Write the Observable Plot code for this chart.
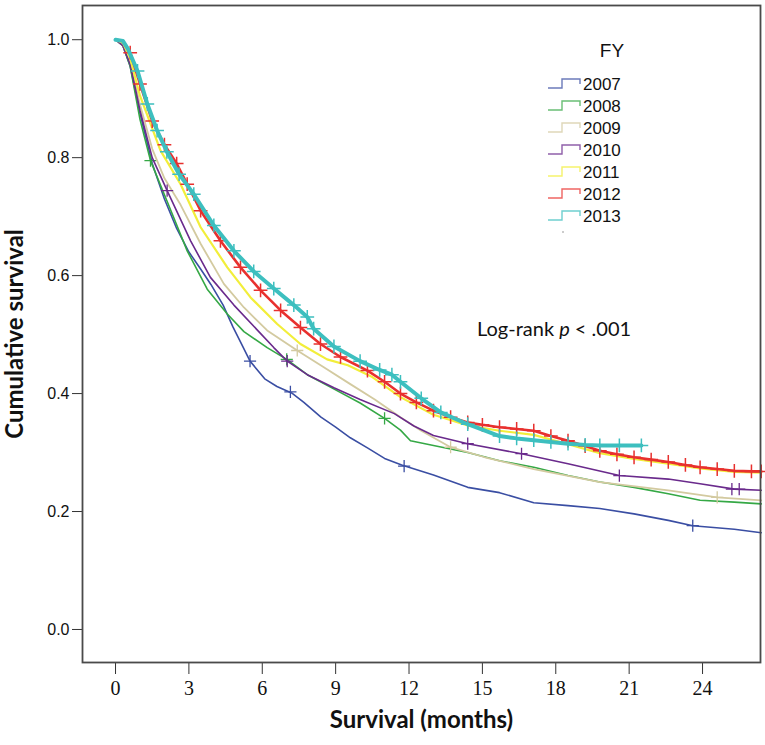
<!DOCTYPE html>
<html><head><meta charset="utf-8">
<script src="https://cdn.jsdelivr.net/npm/d3@7"></script>
<script src="https://cdn.jsdelivr.net/npm/@observablehq/plot@0.6"></script>
<style>
body{margin:0;background:#fff;}
#wrap{position:relative;width:765px;height:745px;}
#wrap svg{position:absolute;left:0;top:0;}
</style></head><body><div id="wrap"></div>
<script>
const years = ["2007","2008","2009","2010","2011","2012","2013"];
const colors = ["#3a4ea3","#35a845","#d3caa0","#6a2a8c","#f2ee3a","#e8302e","#3dbfbf"];
const widths = [1.6,1.6,1.8,1.6,2.2,2.6,4];

const t2007 = [0,0.3,0.6,1.0,1.5,2.0,2.5,3.0,3.5,3.9,4.4,4.8,5.2,5.5,6.1,6.6,7.2,7.7,8.4,9.0,9.6,10.3,11.0,11.7,13.0,14.4,15.7,17.1,18.5,19.8,21.2,22.6,23.6,25.3,26.4];
const s2007 = [1.0,0.99,0.955,0.875,0.79,0.73,0.68,0.64,0.61,0.585,0.55,0.513,0.48,0.455,0.425,0.412,0.401,0.385,0.36,0.343,0.325,0.308,0.29,0.279,0.262,0.241,0.232,0.215,0.21,0.205,0.196,0.185,0.176,0.17,0.164];

const t2008 = [0,0.3,0.6,1.0,1.43,2.1,2.93,3.75,4.57,5.25,6.2,7.0,7.84,8.92,10.0,11.0,11.65,12.06,13.0,14.4,15.7,17.1,18.5,19.8,21.2,22.6,23.9,25.3,26.4];
const s2008 = [1.0,0.99,0.955,0.865,0.795,0.727,0.642,0.577,0.535,0.505,0.478,0.458,0.432,0.408,0.384,0.358,0.338,0.32,0.312,0.300,0.286,0.275,0.261,0.250,0.241,0.230,0.219,0.216,0.213];

const t2009 = [0,0.3,0.6,1.0,1.5,2.0,2.66,3.48,4.43,5.25,6.2,7.43,8.5,9.6,10.6,11.65,12.5,13.7,15.1,17.1,19.8,22.6,24.6,26.4];
const s2009 = [1.0,0.99,0.962,0.89,0.815,0.765,0.72,0.654,0.586,0.546,0.507,0.473,0.445,0.416,0.39,0.36,0.337,0.309,0.292,0.272,0.250,0.236,0.224,0.219];

const t2010 = [0,0.3,0.6,1.0,1.5,2.11,3.07,3.88,4.84,5.79,6.47,7.02,7.84,8.93,10.0,11.4,12.2,13.0,14.4,16.6,18.5,20.6,22.6,23.9,25.3,26.4];
const s2010 = [1.0,0.99,0.958,0.88,0.80,0.744,0.659,0.597,0.55,0.508,0.478,0.455,0.432,0.41,0.39,0.366,0.345,0.329,0.315,0.298,0.281,0.261,0.255,0.247,0.238,0.236];

const t2011 = [0,0.3,0.6,1.0,1.84,2.66,3.48,4.57,5.52,6.61,7.56,8.65,9.5,10.5,11.65,13.0,14.4,15.7,17.1,18.5,19.8,21.2,22.6,23.9,25.3,26.4];
const s2011 = [1.0,0.995,0.968,0.905,0.812,0.755,0.682,0.614,0.563,0.518,0.484,0.458,0.448,0.428,0.394,0.364,0.346,0.337,0.330,0.314,0.299,0.289,0.281,0.273,0.267,0.266];

const t2012 = [0,0.3,0.6,1.0,1.5,2.0,2.5,2.93,3.48,4.29,5.11,5.93,6.75,7.56,8.38,9.2,10.3,11.0,11.65,12.3,13.0,13.7,14.4,15.0,15.7,16.4,17.1,17.8,18.5,19.2,19.8,20.5,21.2,21.9,22.6,23.3,23.9,24.6,25.3,26.0,26.4];
const s2012 = [1.0,0.998,0.978,0.925,0.862,0.822,0.79,0.755,0.71,0.659,0.614,0.575,0.541,0.512,0.484,0.462,0.439,0.42,0.40,0.385,0.371,0.36,0.351,0.347,0.343,0.340,0.337,0.328,0.320,0.311,0.303,0.297,0.292,0.288,0.284,0.279,0.275,0.272,0.269,0.268,0.268];

const t2013 = [0,0.3,0.5,0.9,1.3,1.7,2.1,2.6,3.2,4.02,4.84,5.65,6.47,7.29,7.84,8.1,8.93,10.0,10.8,11.3,11.65,12.5,13.3,14.4,15.7,16.4,17.1,17.8,18.5,19.2,19.8,20.6,21.5];
const s2013 = [1.0,0.998,0.985,0.947,0.891,0.846,0.81,0.772,0.738,0.685,0.642,0.607,0.578,0.55,0.53,0.51,0.48,0.455,0.44,0.432,0.42,0.392,0.368,0.348,0.328,0.324,0.321,0.318,0.315,0.313,0.312,0.312,0.312];

// censored observations (+ marks) read for the thinner curves
const c2007t = [5.5,7.15,11.8,23.6], c2007s = [0.455,0.403,0.277,0.176];
const c2008t = [1.43,7.0,11.0], c2008s = [0.795,0.458,0.358];
const c2009t = [7.43,13.7,24.6], c2009s = [0.473,0.309,0.224];
const c2010t = [2.11,7.02,14.4,16.6,20.6,25.2,25.5], c2010s = [0.744,0.455,0.315,0.298,0.261,0.238,0.238];

const xTicks = [0,3,6,9,12,15,18,21,24];
const yTicks = [0,0.2,0.4,0.6,0.8,1.0];
const xTitle = "Survival (months)";
const yTitle = "Cumulative survival";
const legendTitle = "FY";

const curves = [[t2007,s2007],[t2008,s2008],[t2009,s2009],[t2010,s2010],[t2011,s2011],[t2012,s2012],[t2013,s2013]];
const censors = {"2007":[c2007t,c2007s],"2008":[c2008t,c2008s],"2009":[c2009t,c2009s],"2010":[c2010t,c2010s]};

const lineMarks = [];
years.forEach((y,i) => {
  const [ts, ss] = curves[i];
  const rows = ts.map((t,j) => ({year:y, t, s:ss[j]}));
  lineMarks.push(Plot.line(rows, {x:"t", y:"s", stroke:colors[i], strokeWidth:widths[i], curve:"linear"}));
  if (censors[y]) {
    const [ct, cs] = censors[y];
    lineMarks.push(Plot.dot(ct.map((t,j)=>({t, s:cs[j]})), {x:"t", y:"s", symbol:"plus", r:4, stroke:colors[i], strokeWidth:1.3}));
  } else if (y === "2012" || y === "2013") {
    lineMarks.push(Plot.dot(rows.filter(d=>d.t>0.5), {x:"t", y:"s", symbol:"plus", r:4.5, stroke:colors[i], strokeWidth:1.5}));
  }
});

const plot = Plot.plot({
  width:765, height:745,
  marginLeft:82, marginRight:5, marginTop:5, marginBottom:83,
  style:{background:"#fff"},
  x:{domain:[-1.35,26.37]},
  y:{domain:[-0.056,1.058]},
  marks:[
    Plot.axisX({ticks:xTicks, tickSize:12, tickPadding:6, fontSize:20, fontFamily:"Liberation Serif", stroke:"#333", fill:"#111", label:null}),
    Plot.axisY({ticks:yTicks, tickFormat:d3.format(".1f"), tickSize:10, tickPadding:3, fontSize:16, fontFamily:"Liberation Sans", stroke:"#333", fill:"#111", label:null}),
    ...lineMarks,
    Plot.frame({stroke:"#4a4a4a", strokeWidth:1.8}),
    Plot.text([yTitle], {frameAnchor:"left", dx:-67, rotate:-90, textAnchor:"middle", lineAnchor:"middle", fontSize:24, fontWeight:"bold", fontFamily:"Lato", fill:"#111"}),
    Plot.text([xTitle], {frameAnchor:"bottom", dy:58, textAnchor:"middle", lineAnchor:"middle", fontSize:24, fontWeight:"bold", fontFamily:"Lato", fill:"#111"})
  ]
});
document.getElementById("wrap").appendChild(plot);

// legend + annotation overlay
const ov = d3.select("#wrap").append("svg").attr("width",765).attr("height",745).style("pointer-events","none");
ov.append("text").attr("x",612).attr("y",50).attr("text-anchor","middle").attr("dominant-baseline","central")
  .attr("font-family","Liberation Sans").attr("font-size",19).attr("fill","#111").text(legendTitle);
years.forEach((y,i) => {
  const cy = 84 + i*22;
  ov.append("path").attr("d",`M548,${cy+4}H562V${cy-5}H580V${cy}`).attr("fill","none")
    .attr("stroke",colors[i]).attr("stroke-width",1.4).attr("opacity",0.75);
  ov.append("text").attr("x",583).attr("y",cy).attr("dominant-baseline","central")
    .attr("font-family","Liberation Sans").attr("font-size",17).attr("fill","#111").text(y);
});
ov.append("circle").attr("cx",563).attr("cy",84 + 7*22 - 6).attr("r",1).attr("fill","#bbb");
const ann = ov.append("text").attr("x",477).attr("y",328).attr("dominant-baseline","central")
  .attr("font-family","Lato").attr("font-size",20).attr("fill","#111");
ann.append("tspan").text("Log-rank ");
ann.append("tspan").attr("font-style","italic").text("p");
ann.append("tspan").text(" < .001");
</script></body></html>
